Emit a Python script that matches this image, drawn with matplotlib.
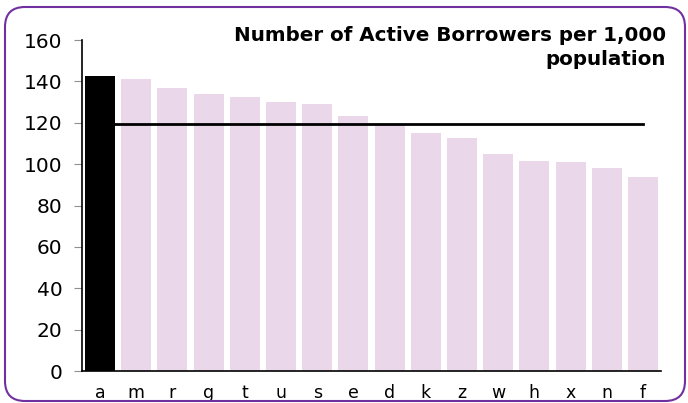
import matplotlib.pyplot as plt
from matplotlib.patches import FancyBboxPatch

# --------------------------------------
# Data
# --------------------------------------
labels = ["a", "m", "r", "g", "t", "u", "s", "e", "d", "k", "z", "w", "h", "x", "n", "f"]
borrowers = [142.6, 141.1, 136.6, 133.9, 132.4, 129.9, 128.9, 123.4, 119.5,
             115.0, 112.8, 105.0, 101.3, 101.0, 98.0, 93.6]
average = 119.6

bar_colors = ["black"] + ["#EAD8EA"] * (len(labels) - 1)

# --------------------------------------
# Chart
# --------------------------------------
fig = plt.figure(figsize=(6.88, 4.03), dpi=100)
ax = fig.add_axes([0.1192, 0.0794, 0.8416, 0.8213])

x = list(range(len(labels)))
ax.bar(x, borrowers, width=0.83, color=bar_colors, zorder=2)
ax.plot([x[0], x[-1]], [average, average], color="black", linewidth=2, zorder=3)

ax.set_xlim(-0.5, len(labels) - 0.5)
ax.set_ylim(0, 160)
ax.set_yticks(range(0, 161, 20))
ax.set_xticks(x)
ax.set_xticklabels(labels)

ax.tick_params(axis="y", labelsize=14.5, length=6, color="#909090", pad=8)
ax.tick_params(axis="x", labelsize=12.5, length=0, pad=9)

for side in ["top", "right"]:
    ax.spines[side].set_visible(False)
for side in ["left", "bottom"]:
    ax.spines[side].set_linewidth(1.2)

fig.text(0.968, 0.935, "Number of Active Borrowers per 1,000\npopulation",
         ha="right", va="top", fontsize=14.3, fontweight="bold", linespacing=1.3)

# rounded purple frame
frame = FancyBboxPatch((0.05, 0.02), 6.80, 3.94,
                       boxstyle="round,pad=0,rounding_size=0.2",
                       transform=fig.dpi_scale_trans, fill=False,
                       edgecolor="#7030A0", linewidth=1.5)
fig.patches.append(frame)

plt.savefig("out.png", dpi=100)
